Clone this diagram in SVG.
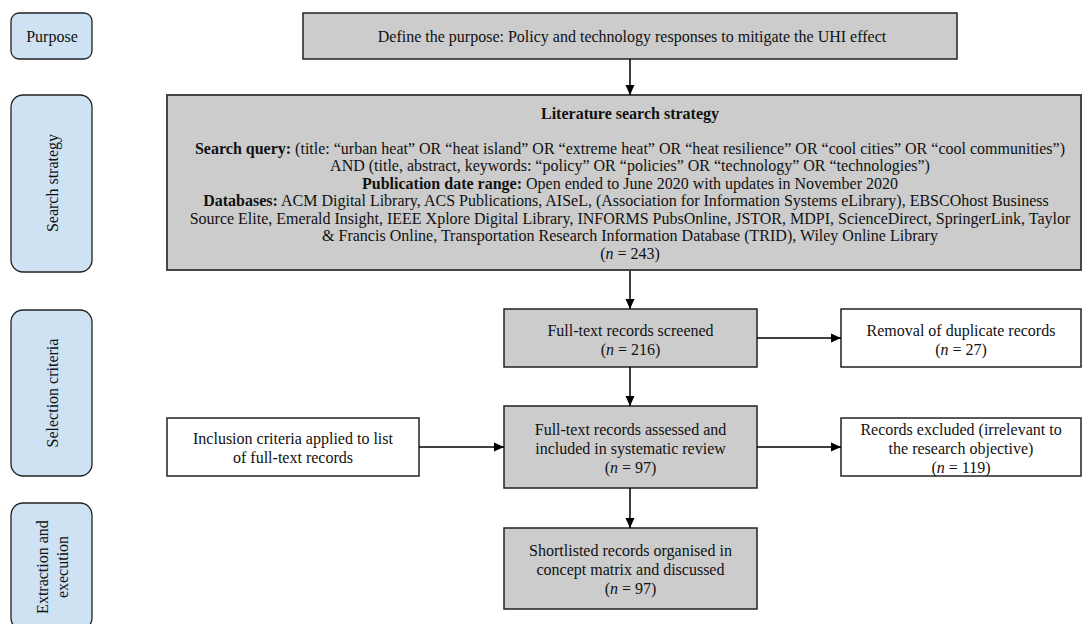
<svg xmlns="http://www.w3.org/2000/svg" width="1083" height="624" viewBox="0 0 1083 624">
<defs>
<style>
text{font-family:"Liberation Serif","Times New Roman",serif;font-size:16px;fill:#111;text-anchor:middle}
.b{font-weight:bold}
.i{font-style:italic}
.stage{fill:#cfe2f3;stroke:#222;stroke-width:1.3}
.grey{fill:#cccccc;stroke:#222;stroke-width:1.5}
.white{fill:#ffffff;stroke:#222;stroke-width:1.5}
.big{fill:#cccccc;stroke:#444;stroke-width:2}
.conn{stroke:#000;stroke-width:1.5;fill:none;marker-end:url(#ah)}
</style>
<marker id="ah" markerWidth="10" markerHeight="10" refX="10" refY="5" orient="auto" markerUnits="userSpaceOnUse">
<path d="M0,0.5 L10,5 L0,9.5 Z" fill="#000"/>
</marker>
</defs>
<rect width="1083" height="624" fill="#ffffff"/>

<g id="stage-purpose">
<rect class="stage" x="11" y="13" width="81" height="46" rx="8"/>
<text x="52" y="41.5">Purpose</text>
</g>
<g id="stage-search">
<rect class="stage" x="11" y="95" width="81" height="177" rx="12"/>
<text transform="translate(57.5,183) rotate(-90)">Search strategy</text>
</g>
<g id="stage-selection">
<rect class="stage" x="11" y="310" width="81" height="166" rx="12"/>
<text transform="translate(57.5,393) rotate(-90)">Selection criteria</text>
</g>
<g id="stage-extraction">
<rect class="stage" x="11" y="503" width="81" height="127" rx="12"/>
<text transform="translate(47.5,567) rotate(-90)">Extraction and</text>
<text transform="translate(67.5,567) rotate(-90)">execution</text>
</g>

<g id="purpose">
<rect class="grey" x="303" y="13" width="654" height="46"/>
<text x="632" y="41.5">Define the purpose: Policy and technology responses to mitigate the UHI effect</text>
</g>

<g id="search">
<rect class="big" x="167" y="95" width="914" height="175"/>
<text x="630" y="118.5" class="b">Literature search strategy</text>
<text x="630" y="153.5"><tspan class="b">Search query:</tspan> (title: “urban heat” OR “heat island” OR “extreme heat” OR “heat resilience” OR “cool cities” OR “cool communities”)</text>
<text x="630" y="171">AND (title, abstract, keywords: “policy” OR “policies” OR “technology” OR “technologies”)</text>
<text x="630" y="188.5"><tspan class="b">Publication date range:</tspan> Open ended to June 2020 with updates in November 2020</text>
<text x="626" y="206"><tspan class="b">Databases:</tspan> ACM Digital Library, ACS Publications, AISeL, (Association for Information Systems eLibrary), EBSCOhost Business</text>
<text x="630" y="223.5">Source Elite, Emerald Insight, IEEE Xplore Digital Library, INFORMS PubsOnline, JSTOR, MDPI, ScienceDirect, SpringerLink, Taylor</text>
<text x="630" y="241">&amp; Francis Online, Transportation Research Information Database (TRID), Wiley Online Library</text>
<text x="630" y="258.5">(<tspan class="i">n</tspan> = 243)</text>
</g>

<g id="screened">
<rect class="grey" x="504" y="309" width="253" height="58"/>
<text x="630.5" y="335.5">Full-text records screened</text>
<text x="630.5" y="354.5">(<tspan class="i">n</tspan> = 216)</text>
</g>

<g id="duplicates">
<rect class="white" x="841" y="309" width="240" height="58"/>
<text x="961" y="335.5">Removal of duplicate records</text>
<text x="961" y="354.5">(<tspan class="i">n</tspan> = 27)</text>
</g>

<g id="inclusion">
<rect class="white" x="167" y="418" width="252" height="58"/>
<text x="293" y="443.5">Inclusion criteria applied to list</text>
<text x="293" y="462.5">of full-text records</text>
</g>

<g id="assessed">
<rect class="grey" x="504" y="406" width="253" height="82"/>
<text x="630.5" y="434.5">Full-text records assessed and</text>
<text x="630.5" y="453.5">included in systematic review</text>
<text x="630.5" y="472.5">(<tspan class="i">n</tspan> = 97)</text>
</g>

<g id="excluded">
<rect class="white" x="841" y="418" width="240" height="58"/>
<text x="961" y="434.5">Records excluded (irrelevant to</text>
<text x="961" y="453.5">the research objective)</text>
<text x="961" y="472.5">(<tspan class="i">n</tspan> = 119)</text>
</g>

<g id="shortlisted">
<rect class="grey" x="504" y="528" width="253" height="81"/>
<text x="630.5" y="555.5">Shortlisted records organised in</text>
<text x="630.5" y="574.5">concept matrix and discussed</text>
<text x="630.5" y="593.5">(<tspan class="i">n</tspan> = 97)</text>
</g>

<g id="connectors">
<line class="conn" x1="630" y1="59" x2="630" y2="95"/>
<line class="conn" x1="630" y1="271" x2="630" y2="309"/>
<line class="conn" x1="630" y1="367" x2="630" y2="406"/>
<line class="conn" x1="630" y1="488" x2="630" y2="528"/>
<line class="conn" x1="757" y1="338" x2="841" y2="338"/>
<line class="conn" x1="419" y1="447" x2="504" y2="447"/>
<line class="conn" x1="757" y1="447" x2="841" y2="447"/>
</g>
</svg>
